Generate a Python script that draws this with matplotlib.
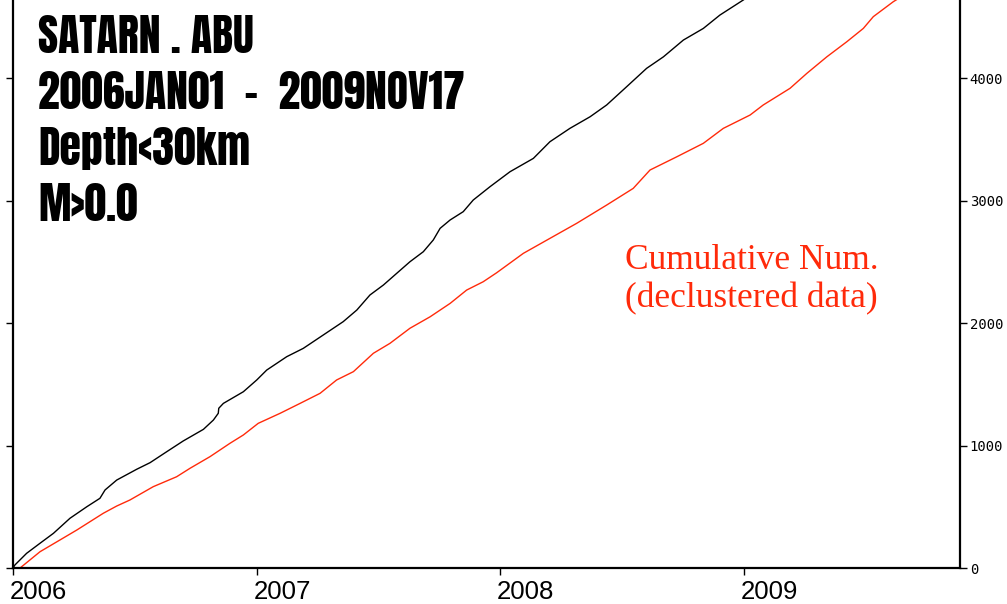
import matplotlib
matplotlib.use('Agg')
import matplotlib.pyplot as plt
from matplotlib.transforms import ScaledTranslation

# cumulative number, all events (decimal year, count)
all_year = [2006.000, 2006.008, 2006.056, 2006.111, 2006.166, 2006.234, 2006.303, 2006.357,
            2006.378, 2006.426, 2006.508, 2006.563, 2006.631, 2006.699, 2006.782, 2006.823,
            2006.843, 2006.845, 2006.864, 2006.946, 2007.001, 2007.042, 2007.124, 2007.192,
            2007.274, 2007.356, 2007.412, 2007.466, 2007.521, 2007.576, 2007.630, 2007.685,
            2007.726, 2007.754, 2007.795, 2007.849, 2007.890, 2007.959, 2008.041, 2008.137,
            2008.205, 2008.287, 2008.370, 2008.438, 2008.520, 2008.602, 2008.671, 2008.753,
            2008.835, 2008.903, 2008.999, 2009.300, 2009.600, 2009.880]
all_num = [0, 25, 120, 202, 283, 406, 500, 569,
           637, 718, 806, 860, 949, 1037, 1132, 1208,
           1263, 1304, 1344, 1439, 1535, 1616, 1725, 1793,
           1902, 2011, 2106, 2229, 2310, 2406, 2500, 2582,
           2678, 2773, 2841, 2909, 3004, 3113, 3235, 3344,
           3480, 3589, 3684, 3780, 3929, 4079, 4173, 4310,
           4405, 4514, 4637, 5050, 5450, 5850]

# cumulative number, declustered events
dec_year = [2006.029, 2006.111, 2006.193, 2006.262, 2006.371, 2006.426, 2006.480, 2006.576,
            2006.672, 2006.727, 2006.809, 2006.891, 2006.946, 2007.007, 2007.097, 2007.179,
            2007.261, 2007.329, 2007.398, 2007.480, 2007.548, 2007.630, 2007.713, 2007.795,
            2007.863, 2007.931, 2007.986, 2008.096, 2008.205, 2008.315, 2008.438, 2008.547,
            2008.616, 2008.726, 2008.835, 2008.917, 2009.027, 2009.081, 2009.191, 2009.260,
            2009.342, 2009.424, 2009.492, 2009.533, 2009.615, 2009.880]
dec_num = [0, 133, 229, 310, 447, 506, 555, 664,
           745, 814, 909, 1018, 1086, 1181, 1263, 1344,
           1426, 1535, 1603, 1753, 1834, 1957, 2051, 2160,
           2269, 2337, 2410, 2569, 2691, 2814, 2963, 3099,
           3249, 3357, 3467, 3589, 3698, 3780, 3916, 4038,
           4173, 4296, 4405, 4501, 4623, 4950]

year_ticks = [2006, 2007, 2008, 2009]
num_ticks = [0, 1000, 2000, 3000, 4000]

title_lines = ['SATARN . ABU', '2006JAN01  -  2009NOV17', 'Depth<30km', 'M>0.0']

red = '#ff2a0a'
head_font = ['Anton', 'Oswald', 'Fjalla One', 'Roboto Condensed', 'DejaVu Sans']

fig = plt.figure(figsize=(10.07, 6.04), dpi=100)
ax = fig.add_axes([13 / 1007, 1 - 568 / 604, 947 / 1007, 568 / 604])

ax.plot(all_year, all_num, color='black', lw=1.0)
ax.plot(dec_year, dec_num, color=red, lw=1.0)

ax.set_xlim(2006.0, 2009.889)
ax.set_ylim(0, 4637)

ax.spines['top'].set_visible(False)
for s in ['left', 'right', 'bottom']:
    ax.spines[s].set_linewidth(1.6)

# year labels sit just right of their tick, drawn as text in axis coords
ax.set_xticks(year_ticks)
ax.set_xticklabels([])
shift = ScaledTranslation(-3 / 100, -12 / 100, fig.dpi_scale_trans)
for y in year_ticks:
    ax.text(y, 0, str(y), transform=ax.get_xaxis_transform() + shift,
            family='Liberation Sans', fontsize=18.5, ha='left', va='top')

ax.set_yticks(num_ticks)
ax.set_yticklabels([str(n) for n in num_ticks], family='DejaVu Sans Mono', fontsize=10)
ax.tick_params(axis='x', direction='out', length=5, width=1)
ax.tick_params(axis='y', direction='out', length=5, width=1, pad=2,
               left=True, right=True, labelleft=False, labelright=True)

for i, line in enumerate(title_lines):
    fig.text(38 / 1007, 1 - (53 + i * 56) / 604, line, family=head_font,
             fontsize=31.5, color='black', va='baseline', ha='left')

fig.text(625 / 1007, 1 - 269 / 604, 'Cumulative Num.', family='Liberation Serif',
         fontsize=25.5, color=red, va='baseline')
fig.text(625 / 1007, 1 - 307 / 604, '(declustered data)', family='Liberation Serif',
         fontsize=25.5, color=red, va='baseline')

fig.savefig('out.png', dpi=100)
